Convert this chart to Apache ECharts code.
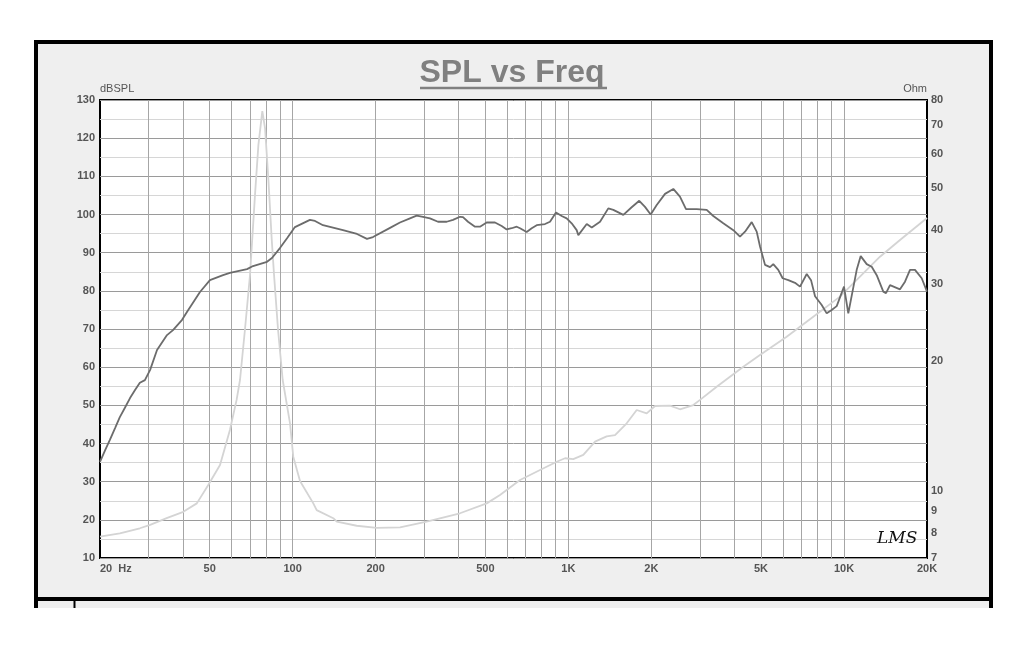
<!DOCTYPE html>
<html>
<head>
<meta charset="utf-8">
<script src="https://cdn.jsdelivr.net/npm/echarts@6/dist/echarts.min.js"></script>
<style>
html,body{margin:0;padding:0;background:#fff;}
#c{width:1024px;height:652px;}
</style>
</head>
<body>
<div id="c"></div>
<script>
// ---- data ----
const splFreq = [20, 20.9, 21.7, 22.7, 23.6, 24.6, 25.7, 26.8, 27.9, 29.1, 30.4, 32.2, 35.0, 36.8, 39.7, 41.4, 46.1, 50.1, 55.9, 59.2,
  68.3, 71.8, 80.7, 84.1, 89.9, 95.4, 101.9, 115.5, 120.5, 128.8, 152.2, 171.1, 186, 195.6, 225.5, 245, 266.4, 281.7, 297, 314.8,
  336.6, 362, 381.6, 404.6, 414.8, 432.5, 458.6, 478, 505.5, 541.8, 573, 597.5, 623, 649.7, 667.8, 706, 736.3, 767.7, 822.8, 857.9,
  902, 946, 986, 1028, 1072, 1087, 1166, 1216, 1303, 1396, 1456, 1583, 1697, 1808, 1897, 1989, 2092, 2242, 2403, 2540,
  2672, 2922, 3176, 3356, 3648, 3968, 4194, 4374, 4626, 4822, 4958, 5170, 5390, 5538, 5774, 5990, 6280, 6641, 6924, 7324,
  7592, 7850, 8300, 8654, 9022, 9408, 9998, 10364, 11118, 11496, 12086, 12602, 13140, 13884, 14202, 14684, 15962, 16642, 17354, 18094,
  19136, 20000];
const splDb = [35.2, 38.3, 40.9, 44.1, 46.9, 49.3, 51.9, 54.0, 55.9, 56.6, 59.3, 64.5, 68.4, 69.7, 72.4, 74.5, 79.7, 82.8, 84.1, 84.7,
  85.7, 86.5, 87.6, 88.6, 91.2, 93.8, 96.7, 98.6, 98.3, 97.2, 95.9, 94.9, 93.6, 94.1, 96.5, 97.9, 99.0, 99.7, 99.4, 99.0,
  98.1, 98.1, 98.6, 99.4, 99.3, 98.1, 96.8, 96.8, 97.9, 97.9, 97.0, 96.1, 96.4, 96.8, 96.4, 95.4, 96.4, 97.2, 97.5, 98.1,
  100.5, 99.6, 99.0, 97.7, 95.9, 94.6, 97.5, 96.6, 98.1, 101.6, 101.2, 99.9, 101.9, 103.6, 102.0, 100.0, 102.5, 105.4, 106.7, 104.7,
  101.4, 101.4, 101.2, 99.6, 97.7, 95.9, 94.2, 95.5, 98.0, 95.5, 91.6, 86.8, 86.2, 87.0, 85.5, 83.3, 82.8, 82.1, 81.1, 84.4,
  82.8, 78.6, 76.3, 74.1, 75.0, 76.0, 81.1, 74.1, 85.5, 89.1, 87.0, 86.3, 84.1, 79.8, 79.4, 81.5, 80.4, 82.4, 85.5, 85.5,
  83.3, 79.8];

const impFreq = [20, 23.6, 27.9, 30.4, 34.9, 40.1, 44.9, 49.4, 54.5, 59.2, 62.6, 64.4, 67.1, 70.0, 73.0, 75.1, 77.6, 79.4, 81.6, 83.9,
  85.6, 88.5, 92.0, 97.8, 100.5, 106.3, 118.8, 122.2, 140.4, 144.5, 170.7, 201.7, 245.1, 306.3, 404.5, 505.5, 565, 667.8, 789.4, 907.4,
  972.6, 1042, 1133, 1250, 1377, 1477, 1628, 1770, 1924, 2062, 2338, 2540, 2840, 3004, 3452, 4312, 4956, 6194, 7736, 9668,
  11428, 13506, 15962, 20000];
const impOhm = [7.84, 7.98, 8.20, 8.35, 8.65, 8.95, 9.36, 10.32, 11.48, 13.83, 16.23, 18.04, 23.54, 31.5, 48.3, 63.0, 75.4, 68.8, 52.7, 38.3,
  31.5, 23.54, 18.04, 14.33, 12.0, 10.54, 9.36, 9.03, 8.65, 8.49, 8.31, 8.22, 8.24, 8.49, 8.88, 9.36, 9.79, 10.6, 11.18, 11.68,
  11.9, 11.84, 12.11, 13.0, 13.37, 13.46, 14.33, 15.38, 15.11, 15.71, 15.75, 15.44, 15.79, 16.23, 17.41, 19.36, 20.61, 22.72, 25.27, 28.11,
  31.26, 34.76, 37.98, 42.71];

const freqTickValues = [20, 50, 100, 200, 500, 1000, 2000, 5000, 10000, 20000];
const freqTickLabels = ['20  Hz', '50', '100', '200', '500', '1K', '2K', '5K', '10K', '20K'];
const freqGridLines = [30, 40, 50, 60, 70, 80, 90, 100, 200, 300, 400, 500, 600, 700, 800, 900,
  1000, 2000, 3000, 4000, 5000, 6000, 7000, 8000, 9000, 10000];
const ohmTickValues = [7, 8, 9, 10, 20, 30, 40, 50, 60, 70, 80];

const titleText = 'SPL vs Freq';
const leftAxisName = 'dBSPL';
const rightAxisName = 'Ohm';
const signature = 'LMS';

// ---- chart ----
const FONT = '"Liberation Sans", Arial, sans-serif';
const labelColor = '#555';

function freqLabel(v) {
  for (let i = 0; i < freqTickValues.length; i++) {
    const t = freqTickValues[i];
    if (Math.abs(Math.log10(t) - Math.log10(v)) < 0.004) return freqTickLabels[i];
    if (Math.abs(Math.log10(t) - v) < 0.004) return freqTickLabels[i];
  }
  return '';
}

const chart = echarts.init(document.getElementById('c'), null, {renderer: 'canvas'});
chart.setOption({
  animation: false,
  backgroundColor: '#ffffff',
  textStyle: {fontFamily: FONT},
  title: {
    text: titleText,
    left: 'center',
    top: 52,
    textStyle: {fontSize: 32, fontWeight: 'bold', color: '#808080', fontFamily: FONT}
  },
  graphic: [
    {type: 'rect', z: -10, shape: {x: 36, y: 599, width: 955, height: 9}, style: {fill: '#efefef', stroke: null}},
    {type: 'rect', z: -9, shape: {x: 36, y: 42, width: 955, height: 557}, style: {fill: '#efefef', stroke: '#000', lineWidth: 4}},
    {type: 'line', z: -8, shape: {x1: 36, y1: 599, x2: 36, y2: 608}, style: {stroke: '#000', lineWidth: 4}},
    {type: 'line', z: -8, shape: {x1: 991, y1: 599, x2: 991, y2: 608}, style: {stroke: '#000', lineWidth: 4}},
    {type: 'line', z: -8, shape: {x1: 74.5, y1: 599, x2: 74.5, y2: 608}, style: {stroke: '#000', lineWidth: 2}},
    {type: 'line', z: 10, shape: {x1: 420, y1: 88, x2: 607, y2: 88}, style: {stroke: '#808080', lineWidth: 2.5}},
    {type: 'text', z: 10, x: 877, y: 530, style: {text: signature, font: 'italic 17px "DejaVu Serif", serif', fill: '#111'}}
  ],
  grid: {
    left: 100, right: 97, top: 100, bottom: 94,
    show: true, backgroundColor: '#ffffff', borderColor: '#000', borderWidth: 2
  },
  xAxis: {
    type: 'log', logBase: 10, min: 20, max: 20000,
    axisLine: {show: false}, axisTick: {show: false},
    splitLine: {show: false},
    axisLabel: {
      customValues: freqTickValues,
      formatter: freqLabel,
      color: labelColor, fontSize: 11, fontWeight: 'bold', margin: 5,
      alignMinLabel: 'left'
    }
  },
  yAxis: [
    {
      type: 'value', min: 10, max: 130, interval: 10,
      name: leftAxisName, nameLocation: 'end', nameGap: 4,
      nameTextStyle: {align: 'left', color: labelColor, fontSize: 11, padding: [0, 0, 0, 0]},
      axisLine: {show: false}, axisTick: {show: false},
      axisLabel: {color: labelColor, fontSize: 11, fontWeight: 'bold', margin: 5},
      splitLine: {show: true, lineStyle: {color: '#9a9a9a', width: 1}},
      minorTick: {show: false, splitNumber: 2},
      minorSplitLine: {show: true, lineStyle: {color: '#d6d6d6', width: 1}}
    },
    {
      type: 'log', logBase: 10, min: 7, max: 80, position: 'right',
      name: rightAxisName, nameLocation: 'end', nameGap: 4,
      nameTextStyle: {align: 'right', color: labelColor, fontSize: 11},
      axisLine: {show: false}, axisTick: {show: false},
      splitLine: {show: false},
      axisLabel: {
        customValues: ohmTickValues,
        formatter: v => { const r = Math.round(v); return (r >= 7 ? String(r) : String(Math.round(Math.pow(10, v)))); },
        color: labelColor, fontSize: 11, fontWeight: 'bold', margin: 4
      }
    }
  ],
  series: [
    {
      type: 'line', name: 'Impedance', xAxisIndex: 0, yAxisIndex: 1, z: 2,
      data: impFreq.map((f, i) => [f, impOhm[i]]),
      showSymbol: false, symbol: 'none', smooth: false,
      lineStyle: {color: '#d4d4d4', width: 1.8},
      markLine: {
        silent: true, symbol: 'none', z: 1,
        label: {show: false},
        lineStyle: {color: '#a6a6a6', width: 1, type: 'solid'},
        emphasis: {disabled: true},
        data: freqGridLines.map(f => ({xAxis: f}))
      }
    },
    {
      type: 'line', name: 'SPL', xAxisIndex: 0, yAxisIndex: 0, z: 3,
      data: splFreq.map((f, i) => [f, splDb[i]]),
      showSymbol: false, symbol: 'none', smooth: false,
      lineStyle: {color: '#6c6c6c', width: 1.8}
    }
  ]
});
</script>
</body>
</html>
